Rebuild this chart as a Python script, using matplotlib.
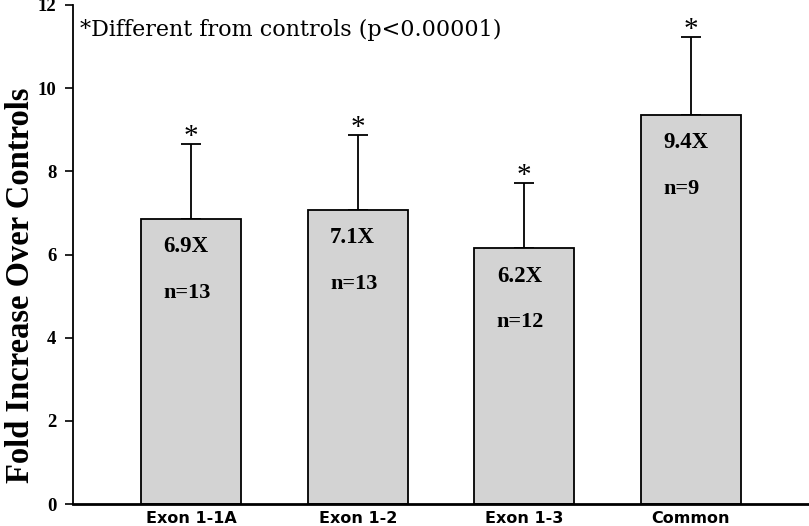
import matplotlib.pyplot as plt
import numpy as np

categories = ["Exon 1-1A", "Exon 1-2", "Exon 1-3", "Common"]
fold_values = [6.85, 7.07, 6.15, 9.35]
errors_upper = [1.80, 1.80, 1.57, 1.88]
fold_labels = ["6.9X", "7.1X", "6.2X", "9.4X"]
n_labels = ["n=13", "n=13", "n=12", "n=9"]
y_ticks = [0, 2, 4, 6, 8, 10, 12]

serif = ["Liberation Serif", "DejaVu Serif"]

fig = plt.figure(figsize=(8.09, 5.26), dpi=100)
ax = fig.add_axes([0.0902, 0.0418, 0.9098, 0.9487])

x = np.arange(len(categories))
ax.bar(x, fold_values, width=0.6, color="#d3d3d3", edgecolor="black", linewidth=1.3, zorder=2)
ax.errorbar(x, fold_values, yerr=[np.zeros(len(x)), errors_upper], fmt="none",
            ecolor="black", elinewidth=1.3, capsize=7.5, capthick=1.3, zorder=1)

for i in range(len(x)):
    top = fold_values[i] + errors_upper[i]
    ax.annotate("*", (x[i], top), xytext=(0, -4), textcoords="offset points",
                ha="center", va="bottom", fontsize=21, family=serif)
    ax.annotate(fold_labels[i], (x[i] - 0.165, fold_values[i]), xytext=(0, -20),
                textcoords="offset points", ha="left", va="center",
                fontsize=16.5, fontweight="bold", family=serif)
    ax.annotate(n_labels[i], (x[i] - 0.165, fold_values[i]), xytext=(0, -53),
                textcoords="offset points", ha="left", va="center",
                fontsize=16, fontweight="bold", family=serif)

ax.text(0.010, 0.95, "*Different from controls (p<0.00001)", transform=ax.transAxes,
        ha="left", va="center", fontsize=16, family=["DejaVu Serif"])

ax.set_xlim(-0.71, 3.71)
ax.set_ylim(0, 12)
ax.set_yticks(y_ticks)
ax.set_yticklabels([str(t) for t in y_ticks], fontsize=13.5, fontweight="bold", family=serif)
ax.set_xticks(x)
ax.set_xticklabels(categories, fontsize=11.5, fontweight="bold", family=["DejaVu Sans"])
ax.tick_params(axis="x", length=0, pad=5)
ax.tick_params(axis="y", length=6, width=1.2, pad=6)

ax.set_ylabel("Fold Increase Over Controls", fontsize=23.5, fontweight="bold", family=serif)
ax.yaxis.set_label_coords(-0.050, 0.438)

ax.spines["top"].set_visible(False)
ax.spines["right"].set_visible(False)
ax.spines["left"].set_linewidth(1.3)
ax.spines["bottom"].set_linewidth(2.0)

fig.savefig("out.png", dpi=100)
